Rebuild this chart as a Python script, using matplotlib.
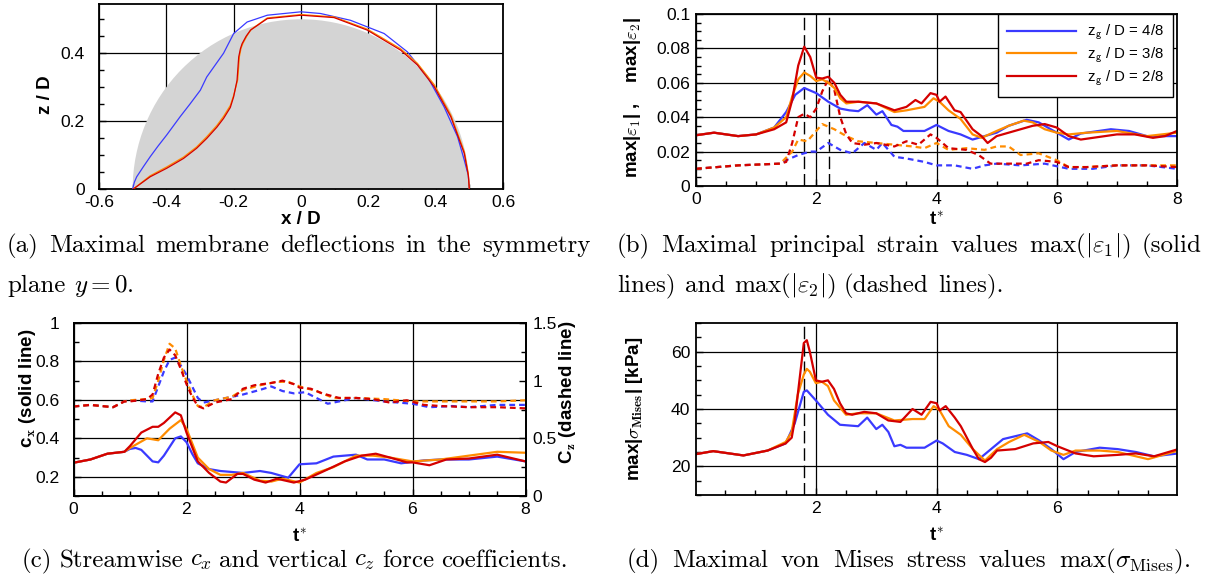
import numpy as np
import matplotlib
matplotlib.use("Agg")
import matplotlib.pyplot as plt
from matplotlib.patches import Wedge
from matplotlib.ticker import MultipleLocator, FuncFormatter

# -------------------------------------------------
# Data
# -------------------------------------------------
labels = ["z$_\\mathsf{g}$ / D = 4/8", "z$_\\mathsf{g}$ / D = 3/8", "z$_\\mathsf{g}$ / D = 2/8"]
colors = ["#3a3aff", "#ff8c00", "#d40000"]

# (a) membrane profiles in y = 0
xa_blue = [-0.5, -0.495, -0.488, -0.468, -0.448, -0.425, -0.399, -0.359, -0.33, -0.299, -0.28, -0.255,
           -0.23, -0.2, -0.16, -0.10, 0.0, 0.058, 0.147, 0.247, 0.316, 0.376, 0.425, 0.465, 0.485,
           0.497, 0.5]
za_blue = [0.0, 0.02, 0.036, 0.066, 0.095, 0.126, 0.159, 0.213, 0.25, 0.291, 0.33, 0.365, 0.40, 0.458,
           0.492, 0.512, 0.522, 0.517, 0.497, 0.458, 0.404, 0.33, 0.242, 0.154, 0.085, 0.04, 0.0]
xa_orange = [-0.498, -0.448, -0.399, -0.349, -0.31, -0.28, -0.25, -0.23, -0.21, -0.2, -0.188, -0.183,
             -0.178, -0.172, -0.16, -0.148, -0.1, 0.0, 0.098, 0.197, 0.296, 0.346, 0.396, 0.445, 0.485,
             0.497, 0.5]
za_orange = [0.0, 0.039, 0.065, 0.094, 0.124, 0.154, 0.187, 0.214, 0.246, 0.276, 0.322, 0.39, 0.415,
             0.43, 0.452, 0.47, 0.504, 0.514, 0.507, 0.471, 0.413, 0.37, 0.307, 0.218, 0.11, 0.045, 0.0]
xa_red = [-0.498, -0.448, -0.399, -0.349, -0.31, -0.28, -0.25, -0.23, -0.21, -0.2, -0.19, -0.185,
          -0.18, -0.175, -0.163, -0.15, -0.1, 0.0, 0.098, 0.197, 0.296, 0.346, 0.396, 0.445, 0.485,
          0.497, 0.5]
za_red = [0.0, 0.036, 0.061, 0.09, 0.12, 0.149, 0.182, 0.208, 0.24, 0.272, 0.32, 0.389, 0.413, 0.428,
          0.45, 0.468, 0.502, 0.512, 0.505, 0.468, 0.409, 0.365, 0.301, 0.213, 0.105, 0.04, 0.0]
body_radius = 0.5

# (b) max principal strains
tb1_blue = [0, 0.3, 0.7, 1.0, 1.3, 1.5, 1.65, 1.8, 2.0, 2.2, 2.4, 2.55, 2.7, 2.85, 3.0, 3.1, 3.25, 3.35,
            3.45, 3.8, 4.0, 4.2, 4.4, 4.6, 4.8, 5.0, 5.2, 5.5, 5.7, 6.0, 6.2, 6.4, 6.9, 7.2, 7.5, 8.0]
e1_blue = [0.0295, 0.031, 0.029, 0.030, 0.034, 0.043, 0.053, 0.057, 0.054, 0.049, 0.045, 0.044, 0.0435,
           0.047, 0.0415, 0.0435, 0.0355, 0.0345, 0.032, 0.032, 0.0355, 0.032, 0.030, 0.027, 0.029,
           0.031, 0.035, 0.0385, 0.037, 0.031, 0.027, 0.0305, 0.033, 0.032, 0.029, 0.029]
tb1_orange = [0, 0.3, 0.7, 1.0, 1.3, 1.5, 1.6, 1.7, 1.8, 1.9, 2.0, 2.1, 2.2, 2.3, 2.4, 2.5, 2.7, 3.0, 3.3,
              3.5, 3.8, 3.95, 4.05, 4.2, 4.4, 4.6, 4.75, 5.0, 5.2, 5.45, 5.6, 5.8, 6.0, 6.2, 6.5, 7.0, 7.5, 8.0]
e1_orange = [0.0295, 0.031, 0.029, 0.030, 0.034, 0.040, 0.052, 0.062, 0.066, 0.064, 0.061, 0.062, 0.060,
             0.057, 0.051, 0.048, 0.049, 0.048, 0.043, 0.044, 0.046, 0.051, 0.049, 0.044, 0.039, 0.030,
             0.028, 0.032, 0.035, 0.038, 0.037, 0.033, 0.031, 0.030, 0.031, 0.032, 0.029, 0.031]
tb1_red = [0, 0.3, 0.7, 1.0, 1.3, 1.5, 1.6, 1.7, 1.8, 1.9, 2.0, 2.1, 2.2, 2.3, 2.4, 2.5, 2.7, 3.0, 3.3, 3.5,
           3.65, 3.75, 3.9, 4.0, 4.05, 4.15, 4.3, 4.4, 4.6, 4.75, 4.85, 5.0, 5.2, 5.4, 5.6, 5.8, 6.0, 6.2,
           6.4, 6.6, 7.0, 7.3, 7.6, 7.8, 8.0]
e1_red = [0.0295, 0.031, 0.029, 0.030, 0.033, 0.037, 0.050, 0.070, 0.081, 0.075, 0.063, 0.0625, 0.0635,
          0.060, 0.053, 0.049, 0.049, 0.048, 0.044, 0.046, 0.050, 0.048, 0.054, 0.053, 0.049, 0.052, 0.044,
          0.043, 0.033, 0.029, 0.025, 0.029, 0.031, 0.033, 0.035, 0.036, 0.034, 0.029, 0.027, 0.028, 0.030,
          0.030, 0.028, 0.029, 0.032]

tb2_blue = [0, 0.7, 1.4, 1.5, 1.7, 1.9, 2.0, 2.2, 2.4, 2.6, 2.8, 3.0, 3.1, 3.3, 3.5, 3.8, 4.0, 4.3, 4.6,
            4.8, 5.0, 5.4, 5.8, 6.2, 6.6, 7.0, 7.5, 8.0]
e2_blue = [0.010, 0.012, 0.013, 0.015, 0.018, 0.020, 0.020, 0.025, 0.021, 0.019, 0.025, 0.021, 0.025,
           0.017, 0.016, 0.014, 0.012, 0.012, 0.010, 0.012, 0.013, 0.012, 0.013, 0.010, 0.010, 0.012,
           0.012, 0.010]
tb2_orange = [0, 0.7, 1.4, 1.6, 1.7, 1.85, 2.0, 2.1, 2.3, 2.5, 2.7, 3.0, 3.3, 3.6, 3.8, 4.0, 4.2, 4.5,
              4.8, 5.0, 5.2, 5.4, 5.7, 6.0, 6.2, 6.5, 7.0, 7.5, 8.0]
e2_orange = [0.010, 0.012, 0.013, 0.020, 0.027, 0.026, 0.032, 0.036, 0.033, 0.029, 0.026, 0.025, 0.024,
             0.023, 0.022, 0.025, 0.021, 0.022, 0.021, 0.023, 0.023, 0.018, 0.019, 0.015, 0.011, 0.011,
             0.012, 0.012, 0.012]
tb2_red = [0, 0.7, 1.4, 1.5, 1.6, 1.7, 1.8, 1.9, 2.0, 2.1, 2.2, 2.3, 2.4, 2.5, 2.6, 2.8, 3.0, 3.3, 3.5,
           3.7, 3.9, 4.0, 4.2, 4.5, 4.7, 4.9, 5.2, 5.5, 5.7, 6.0, 6.2, 6.5, 7.0, 7.5, 8.0]
e2_red = [0.010, 0.012, 0.013, 0.014, 0.025, 0.040, 0.042, 0.040, 0.045, 0.055, 0.062, 0.056, 0.040,
          0.030, 0.025, 0.024, 0.025, 0.023, 0.026, 0.024, 0.030, 0.028, 0.022, 0.021, 0.018, 0.013,
          0.013, 0.013, 0.015, 0.014, 0.011, 0.011, 0.012, 0.012, 0.011]
t_marks_b = [1.8, 2.22]

# (c) force coefficients
tcx_blue = [0, 0.3, 0.6, 0.9, 1.0, 1.1, 1.2, 1.4, 1.5, 1.6, 1.8, 1.9, 2.0, 2.1, 2.2, 2.4, 2.6, 3.0, 3.3,
            3.5, 3.8, 3.9, 4.0, 4.3, 4.6, 5.0, 5.2, 5.5, 5.8, 6.2, 6.5, 7.0, 7.5, 8.0]
cx_blue = [0.273, 0.29, 0.32, 0.33, 0.345, 0.35, 0.34, 0.28, 0.275, 0.31, 0.40, 0.41, 0.38, 0.32, 0.27,
           0.24, 0.23, 0.22, 0.23, 0.22, 0.195, 0.23, 0.265, 0.27, 0.305, 0.315, 0.29, 0.29, 0.27, 0.285,
           0.29, 0.29, 0.305, 0.28]
tcx_orange = [0, 0.3, 0.6, 0.9, 1.0, 1.3, 1.5, 1.7, 1.9, 2.0, 2.2, 2.4, 2.6, 2.8, 3.0, 3.3, 3.5, 3.7, 4.0,
              4.3, 4.6, 5.0, 5.3, 5.6, 6.0, 6.5, 7.0, 7.5, 8.0]
cx_orange = [0.273, 0.29, 0.32, 0.33, 0.35, 0.40, 0.39, 0.45, 0.495, 0.45, 0.30, 0.24, 0.21, 0.21, 0.22,
             0.18, 0.175, 0.19, 0.17, 0.22, 0.25, 0.31, 0.31, 0.30, 0.28, 0.29, 0.31, 0.33, 0.325]
tcx_red = [0, 0.3, 0.6, 0.9, 1.0, 1.2, 1.4, 1.5, 1.6, 1.8, 1.9, 2.0, 2.2, 2.4, 2.6, 2.7, 2.9, 3.0, 3.2,
           3.4, 3.6, 3.9, 4.1, 4.4, 4.8, 5.1, 5.35, 5.6, 5.9, 6.0, 6.3, 6.6, 7.0, 7.5, 8.0]
cx_red = [0.273, 0.29, 0.32, 0.33, 0.36, 0.43, 0.46, 0.46, 0.48, 0.535, 0.52, 0.43, 0.28, 0.22, 0.175,
          0.17, 0.215, 0.215, 0.185, 0.17, 0.19, 0.17, 0.185, 0.225, 0.28, 0.31, 0.32, 0.30, 0.275,
          0.275, 0.26, 0.29, 0.295, 0.315, 0.28]

tcz_blue = [0, 0.3, 0.7, 0.9, 1.0, 1.3, 1.4, 1.5, 1.6, 1.7, 1.8, 1.9, 2.0, 2.1, 2.2, 2.3, 2.6, 3.0, 3.3,
            3.5, 3.7, 3.9, 4.1, 4.3, 4.5, 4.7, 5.0, 5.5, 6.0, 6.3, 6.7, 7.0, 7.5, 8.0]
cz_blue = [0.776, 0.79, 0.77, 0.82, 0.83, 0.82, 0.82, 0.95, 1.08, 1.18, 1.20, 1.13, 1.05, 0.95, 0.85,
           0.81, 0.84, 0.88, 0.92, 0.95, 0.91, 0.89, 0.90, 0.85, 0.80, 0.82, 0.85, 0.82, 0.80, 0.77,
           0.78, 0.77, 0.79, 0.79]
tcz_orange = [0, 0.3, 0.7, 0.9, 1.0, 1.3, 1.4, 1.5, 1.6, 1.7, 1.8, 1.9, 2.0, 2.1, 2.2, 2.3, 2.5, 2.8, 3.0,
              3.3, 3.6, 3.8, 4.0, 4.3, 4.6, 5.0, 5.5, 6.0, 6.5, 7.0, 7.5, 8.0]
cz_orange = [0.776, 0.79, 0.77, 0.82, 0.83, 0.84, 0.85, 1.0, 1.18, 1.32, 1.28, 1.13, 1.0, 0.88, 0.78,
             0.77, 0.83, 0.86, 0.92, 0.96, 0.99, 0.99, 0.95, 0.91, 0.85, 0.85, 0.84, 0.82, 0.82, 0.82,
             0.82, 0.83]
tcz_red = [0, 0.3, 0.7, 0.9, 1.0, 1.3, 1.4, 1.5, 1.6, 1.7, 1.8, 1.9, 2.0, 2.1, 2.2, 2.3, 2.5, 2.8, 3.0,
           3.2, 3.5, 3.7, 3.9, 4.0, 4.2, 4.4, 4.7, 5.0, 5.3, 5.6, 5.9, 6.2, 6.5, 7.0, 7.5, 8.0]
cz_red = [0.776, 0.79, 0.77, 0.82, 0.82, 0.84, 0.88, 1.06, 1.20, 1.27, 1.22, 1.10, 0.97, 0.86, 0.78,
          0.76, 0.81, 0.84, 0.93, 0.96, 0.98, 1.0, 0.97, 0.94, 0.93, 0.89, 0.85, 0.85, 0.84, 0.81, 0.83,
          0.79, 0.78, 0.77, 0.77, 0.76]

# (d) von Mises stress [kPa]
td_blue = [0, 0.3, 0.8, 1.2, 1.5, 1.65, 1.8, 1.85, 2.0, 2.2, 2.4, 2.7, 2.85, 3.0, 3.1, 3.2, 3.3, 3.4, 3.5,
           3.8, 4.0, 4.1, 4.3, 4.5, 4.7, 4.9, 5.1, 5.3, 5.5, 5.7, 5.9, 6.1, 6.3, 6.7, 7.0, 7.3, 7.6, 8.0]
s_blue = [24.2, 25.3, 23.8, 25.5, 28, 35, 46, 46.5, 43, 38, 34.5, 34, 37, 33, 34.5, 32, 27, 27.5, 26.5,
          26.5, 29, 28, 25, 24, 22.5, 26, 29.5, 30.5, 31.5, 29, 26, 22.5, 25, 26.5, 26, 25, 23.5, 24.5]
td_orange = [0, 0.3, 0.8, 1.2, 1.5, 1.6, 1.7, 1.8, 1.85, 1.9, 2.0, 2.1, 2.2, 2.3, 2.5, 2.7, 3.0, 3.3, 3.6,
             3.8, 3.95, 4.05, 4.2, 4.4, 4.6, 4.8, 5.0, 5.2, 5.45, 5.7, 5.9, 6.1, 6.3, 6.7, 7.0, 7.5, 8.0]
s_orange = [24.2, 25.3, 23.8, 25.5, 28.5, 32, 45, 52, 54, 53, 49, 49.5, 48, 43, 38, 38.5, 38.5, 36, 36.5,
            36.5, 41, 39.5, 34, 31, 26, 22, 26, 28.5, 31, 28.5, 25.5, 24, 25.5, 25.5, 25, 22.5, 25.5]
td_red = [0, 0.3, 0.8, 1.2, 1.5, 1.6, 1.65, 1.7, 1.8, 1.85, 1.9, 2.0, 2.1, 2.2, 2.3, 2.4, 2.5, 2.6, 2.8,
          3.0, 3.2, 3.4, 3.6, 3.75, 3.9, 4.0, 4.05, 4.15, 4.3, 4.4, 4.5, 4.6, 4.7, 4.8, 4.9, 5.0, 5.3,
          5.6, 5.85, 6.0, 6.3, 6.6, 7.0, 7.3, 7.6, 8.0]
s_red = [24.2, 25.3, 23.8, 25.5, 28, 30, 36, 45, 63, 64, 60, 50, 49.5, 50, 47, 42, 38.5, 38, 39, 38.5,
         36, 35.5, 40, 38, 42.5, 42, 39.5, 41, 37, 34, 30, 26, 22.5, 21.5, 23, 25.5, 26, 28, 28.5, 27,
         24.5, 23.5, 24, 24.5, 23.5, 26]
t_marks_d = [1.8]

captions = {
    "a1": "(a) Maximal membrane deflections in the symmetry",
    "a2": "plane $y=0$.",
    "b1": "(b) Maximal principal strain values $\\max(|\\varepsilon_1|)$ (solid",
    "b2": "lines) and $\\max(|\\varepsilon_2|)$ (dashed lines).",
    "c": "(c) Streamwise $c_x$ and vertical $c_z$ force coefficients.",
    "d": "(d) Maximal von Mises stress values $\\max(\\sigma_\\mathrm{Mises})$.",
}

# -------------------------------------------------
# Figure setup
# -------------------------------------------------
plt.rcParams.update({
    "font.family": "Liberation Sans",
    "mathtext.fontset": "cm",
    "axes.unicode_minus": False,
    "xtick.direction": "in",
    "ytick.direction": "in",
    "xtick.labelsize": 12.6,
    "ytick.labelsize": 12.6,
    "axes.linewidth": 1.3,
})

W, H = 1210, 584
fig = plt.figure(figsize=(W / 100, H / 100), dpi=100)
fmt = FuncFormatter(lambda v, p: f"{v:g}")
LAB = dict(fontsize=13.5, fontweight="bold")
LW = 1.6


def px_axes(l, r, t, b):
    return fig.add_axes([l / W, 1 - b / H, (r - l) / W, (b - t) / H])


def style(ax, xmaj, xmin, ymaj, ymin, ypad=4):
    ax.xaxis.set_major_locator(MultipleLocator(xmaj))
    ax.xaxis.set_minor_locator(MultipleLocator(xmin))
    ax.yaxis.set_major_locator(MultipleLocator(ymaj))
    ax.yaxis.set_minor_locator(MultipleLocator(ymin))
    ax.xaxis.set_major_formatter(fmt)
    ax.yaxis.set_major_formatter(fmt)
    ax.tick_params(which="major", length=5, width=1, top=False, right=False, pad=4)
    ax.tick_params(axis="y", which="major", pad=ypad)
    ax.tick_params(which="minor", length=3.5, width=1, top=False, right=False)
    ax.set_axisbelow(True)
    ax.grid(True, which="major", color="k", lw=0.9)


def tstar(ax, y):
    ax.set_xlabel("t$^{*}$", **LAB)
    ax.xaxis.set_label_coords(0.5, y)


# ---------------- (a) ----------------
axa = px_axes(99, 503, 4, 189)
axa.set_xlim(-0.6, 0.6)
axa.set_ylim(0, 0.545)
style(axa, 0.2, 0.1, 0.2, 0.05, ypad=10)
axa.add_patch(Wedge((0, 0), body_radius, 0, 180, facecolor="#d4d4d4", edgecolor="none", zorder=1))
axa.plot(xa_blue, za_blue, color=colors[0], lw=0.9, zorder=3)
axa.plot(xa_orange, za_orange, color=colors[1], lw=0.9, zorder=3)
axa.plot(xa_red, za_red, color=colors[2], lw=0.9, zorder=3)
axa.set_xlabel("x / D", **LAB)
axa.set_ylabel("z / D", **LAB)
axa.xaxis.set_label_coords(0.5, -0.12)
axa.yaxis.set_label_coords(-0.111, 0.51)

# ---------------- (b) ----------------
axb = px_axes(696, 1177, 14, 186)
axb.set_xlim(0, 8)
axb.set_ylim(0, 0.1)
style(axb, 2, 0.5, 0.02, 0.005)
for tm in t_marks_b:
    axb.axvline(tm, color="k", lw=1.0, dashes=(9, 3.5), zorder=1.5)
axb.plot(tb2_blue, e2_blue, color=colors[0], lw=LW, dashes=(2.6, 1.8))
axb.plot(tb2_orange, e2_orange, color=colors[1], lw=LW, dashes=(2.6, 1.8))
axb.plot(tb2_red, e2_red, color=colors[2], lw=LW, dashes=(2.6, 1.8))
hb = []
hb += axb.plot(tb1_blue, e1_blue, color=colors[0], lw=LW)
hb += axb.plot(tb1_orange, e1_orange, color=colors[1], lw=LW)
hb += axb.plot(tb1_red, e1_red, color=colors[2], lw=LW)
leg = axb.legend(hb, labels, loc="upper right", bbox_to_anchor=(0.9917, 1.0), borderaxespad=0,
                 fontsize=10.8, handlelength=4.6, handletextpad=0.75, labelspacing=0.22,
                 borderpad=0.6, fancybox=False, framealpha=1)
leg.get_frame().set_edgecolor("k")
leg.get_frame().set_linewidth(1.0)
axb.set_ylabel("max|$\\varepsilon_\\mathbf{1}$| ,    max|$\\varepsilon_\\mathbf{2}$|", **LAB)
axb.yaxis.set_label_coords(-0.11, 0.515)
tstar(axb, -0.145)

# ---------------- (c) ----------------
axc = px_axes(73.5, 525.5, 323, 496)
axc.set_xlim(0, 8)
axc.set_ylim(0.1, 1.0)
style(axc, 2, 0.5, 0.2, 0.1, ypad=10)
axc.plot(tcx_blue, cx_blue, color=colors[0], lw=LW)
axc.plot(tcx_orange, cx_orange, color=colors[1], lw=LW)
axc.plot(tcx_red, cx_red, color=colors[2], lw=LW)
axc.set_ylabel("c$_\\mathbf{x}$ (solid line)", **LAB)
axc.yaxis.set_label_coords(-0.079, 0.62)
tstar(axc, -0.185)
axc2 = axc.twinx()
axc2.set_ylim(0, 1.5)
axc2.yaxis.set_major_locator(MultipleLocator(0.5))
axc2.yaxis.set_minor_locator(MultipleLocator(0.25))
axc2.yaxis.set_major_formatter(fmt)
axc2.tick_params(which="major", length=5, width=1, pad=5)
axc2.tick_params(which="minor", length=3.5, width=1)
axc2.plot(tcz_blue, cz_blue, color=colors[0], lw=LW, dashes=(2.6, 1.8))
axc2.plot(tcz_orange, cz_orange, color=colors[1], lw=LW, dashes=(2.6, 1.8))
axc2.plot(tcz_red, cz_red, color=colors[2], lw=LW, dashes=(2.6, 1.8))
axc2.set_ylabel("C$_\\mathbf{z}$ (dashed line)", **LAB)
axc2.yaxis.set_label_coords(1.07, 0.60)

# ---------------- (d) ----------------
axd = px_axes(696, 1177, 323, 495)
axd.set_xlim(0.015, 7.98)
axd.set_ylim(10, 70)
style(axd, 2, 0.5, 20, 5)
for tm in t_marks_d:
    axd.axvline(tm, color="k", lw=1.0, dashes=(9, 3.5), zorder=1.5)
axd.plot(td_blue, s_blue, color=colors[0], lw=LW)
axd.plot(td_orange, s_orange, color=colors[1], lw=LW)
axd.plot(td_red, s_red, color=colors[2], lw=LW)
axd.set_ylabel("max|$\\sigma_\\mathbf{Mises}$| [kPa]", **LAB)
axd.yaxis.set_label_coords(-0.105, 0.5)
tstar(axd, -0.186)

# -------------------------------------------------
# Captions (serif, word-justified like LaTeX)
# -------------------------------------------------
CAP = 18
rend = fig.canvas.get_renderer()


def caption(text, x0, y, x1=None):
    words = text.split(" ")
    items = [fig.text(0, 1 - y / H, w, fontsize=CAP, family="cmr10", va="center", ha="left")
             for w in words]
    widths = [t.get_window_extent(rend).width for t in items]
    gap = CAP * 0.36 * 100 / 72
    if x1 is not None:
        gap = (x1 - x0 - sum(widths)) / (len(words) - 1)
    x = x0
    for t, w in zip(items, widths):
        t.set_x(x / W)
        x += w + gap


caption(captions["a1"], 7, 246, x1=590)
caption(captions["a2"], 7, 286)
caption(captions["b1"], 617, 246, x1=1202)
caption(captions["b2"], 617, 286)
caption(captions["c"], 22, 561, x1=568)
caption(captions["d"], 627, 561, x1=1190)

fig.savefig("out.png", dpi=100)
